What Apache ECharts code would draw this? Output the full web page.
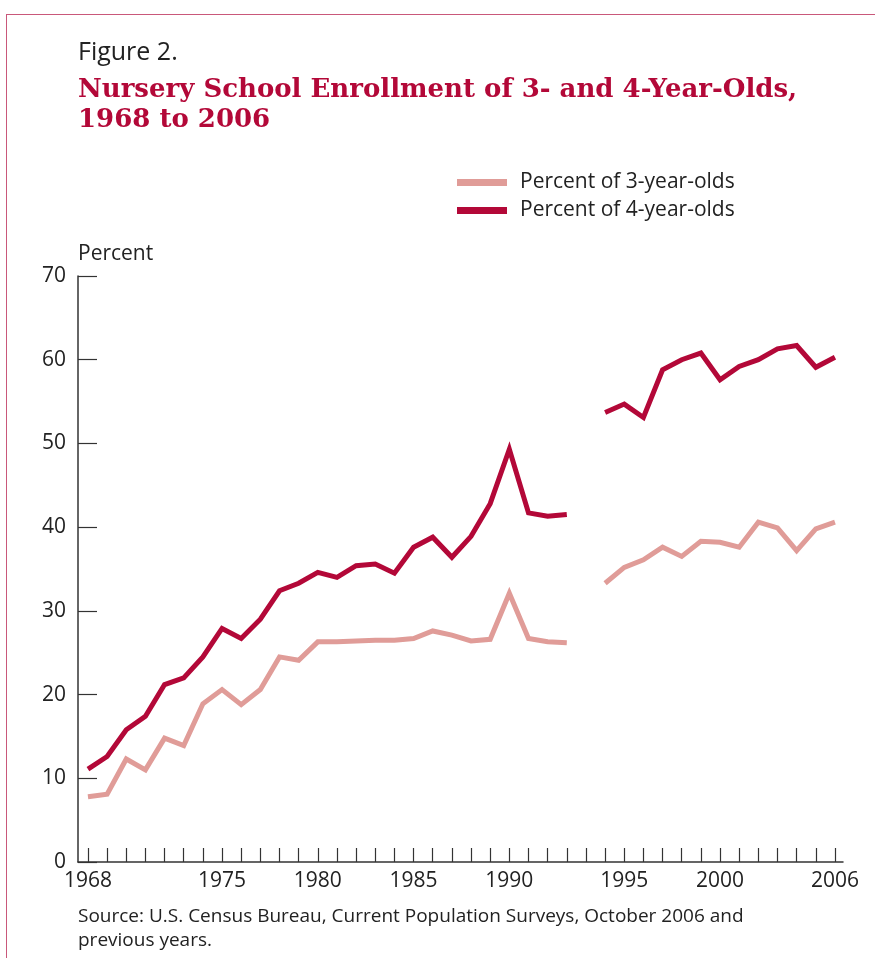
<!DOCTYPE html>
<html>
<head>
<meta charset="utf-8">
<script src="https://cdn.jsdelivr.net/npm/echarts@6/dist/echarts.min.js"></script>
<style>
html,body{margin:0;padding:0;background:#fff;}
#frame{position:absolute;left:6px;top:14px;width:900px;height:1000px;border-top:1.5px solid #c9587a;border-left:1.5px solid #c9587a;z-index:0;}
#chart{position:absolute;left:0;top:0;width:875px;height:958px;z-index:1;}
</style>
</head>
<body>
<div id="frame"></div>
<div id="chart"></div>
<script>
// Slots along the x axis (an empty slot marks the 1993/1994 series break)
const slots = ['1968','1969','1970','1971','1972','1973','1974','1975','1976','1977',
  '1978','1979','1980','1981','1982','1983','1984','1985','1986','1987',
  '1988','1989','1990','1991','1992','1993','',
  '1994','1995','1996','1997','1998','1999','2000','2001','2002','2003','2004','2005','2006'];
const tickLabels = ['1968','1975','1980','1985','1990','1995','2000','2006'];
const pct3 = [7.8, 8.1, 12.3, 11.0, 14.8, 13.9, 18.9, 20.6, 18.8, 20.6,
  24.5, 24.1, 26.3, 26.3, 26.4, 26.5, 26.5, 26.7, 27.6, 27.1,
  26.4, 26.6, 32.1, 26.7, 26.3, 26.2, null,
  33.3, 35.2, 36.1, 37.6, 36.5, 38.3, 38.2, 37.6, 40.6, 39.9, 37.2, 39.8, 40.6];
const pct4 = [11.1, 12.6, 15.8, 17.4, 21.2, 22.0, 24.5, 27.9, 26.7, 29.0,
  32.4, 33.3, 34.6, 34.0, 35.4, 35.6, 34.5, 37.6, 38.8, 36.4,
  38.9, 42.8, 49.3, 41.7, 41.3, 41.5, null,
  53.7, 54.7, 53.1, 58.8, 60.0, 60.8, 57.6, 59.2, 60.0, 61.3, 61.7, 59.1, 60.3];
const yTicks = [0, 10, 20, 30, 40, 50, 60, 70];

const FONT = 'Open Sans';
const C3 = '#e09c98';
const C4 = '#b30838';
const tickIdx = slots.map((s, i) => i);
const labelIdx = tickLabels.map(l => slots.indexOf(l));
const toPairs = arr => arr.map((v, i) => [i, v == null ? '-' : v]);

const chart = echarts.init(document.getElementById('chart'), null, {renderer: 'canvas'});
chart.setOption({
  animation: false,
  textStyle: {fontFamily: FONT},
  title: [
    {text: 'Figure 2.', left: 78, top: 40, padding: 0,
     textStyle: {fontFamily: FONT, fontSize: 25, fontWeight: 'normal', color: '#222'}},
    {text: 'Nursery School Enrollment of 3- and 4-Year-Olds,\n1968 to 2006', left: 78, top: 75, padding: 0,
     textStyle: {fontFamily: 'DejaVu Serif', fontSize: 26, fontWeight: 'bold', color: C4, lineHeight: 30}},
    {text: 'Percent', left: 78, top: 244, padding: 0,
     textStyle: {fontFamily: FONT, fontSize: 21, fontWeight: 'normal', color: '#222'}},
    {text: 'Source: U.S. Census Bureau, Current Population Surveys, October 2006 and\nprevious years.', left: 78, top: 905, padding: 0,
     textStyle: {fontFamily: FONT, fontSize: 19, fontWeight: 'normal', color: '#222', lineHeight: 24}}
  ],
  legend: {
    orient: 'vertical', left: 457, top: 172, padding: 0, itemGap: 7,
    itemWidth: 50, itemHeight: 7, icon: 'rect',
    textStyle: {fontFamily: FONT, fontSize: 21, color: '#222', padding: [0, 0, 0, 8]},
    data: ['Percent of 3-year-olds', 'Percent of 4-year-olds']
  },
  grid: {left: 78, right: 32, top: 276, bottom: 96, containLabel: false},
  xAxis: {
    type: 'value', min: -0.52, max: 39.42,
    axisLine: {show: true, onZero: false, lineStyle: {color: '#333', width: 1.5}},
    axisTick: {show: true, inside: true, length: 14, customValues: tickIdx, lineStyle: {color: '#333', width: 1.2}},
    axisLabel: {show: true, customValues: labelIdx, margin: 9, fontSize: 21, color: '#222', fontFamily: FONT,
      formatter: v => slots[Math.round(v)]},
    splitLine: {show: false}
  },
  yAxis: {
    type: 'value', min: 0, max: 70, interval: 10,
    axisLine: {show: true, onZero: false, lineStyle: {color: '#333', width: 1.5}},
    axisTick: {show: true, inside: true, length: 19, lineStyle: {color: '#333', width: 1.2}},
    axisLabel: {margin: 12, fontSize: 21, color: '#222', fontFamily: FONT,
      formatter: v => yTicks.indexOf(v) >= 0 ? String(v) : ''},
    splitLine: {show: false}
  },
  series: [
    {name: 'Percent of 3-year-olds', type: 'line', data: toPairs(pct3), showSymbol: false, connectNulls: false,
     color: C3, lineStyle: {color: C3, width: 5, join: 'miter'}, itemStyle: {color: C3}, z: 2},
    {name: 'Percent of 4-year-olds', type: 'line', data: toPairs(pct4), showSymbol: false, connectNulls: false,
     color: C4, lineStyle: {color: C4, width: 5, join: 'miter'}, itemStyle: {color: C4}, z: 3}
  ]
});
</script>
</body>
</html>
